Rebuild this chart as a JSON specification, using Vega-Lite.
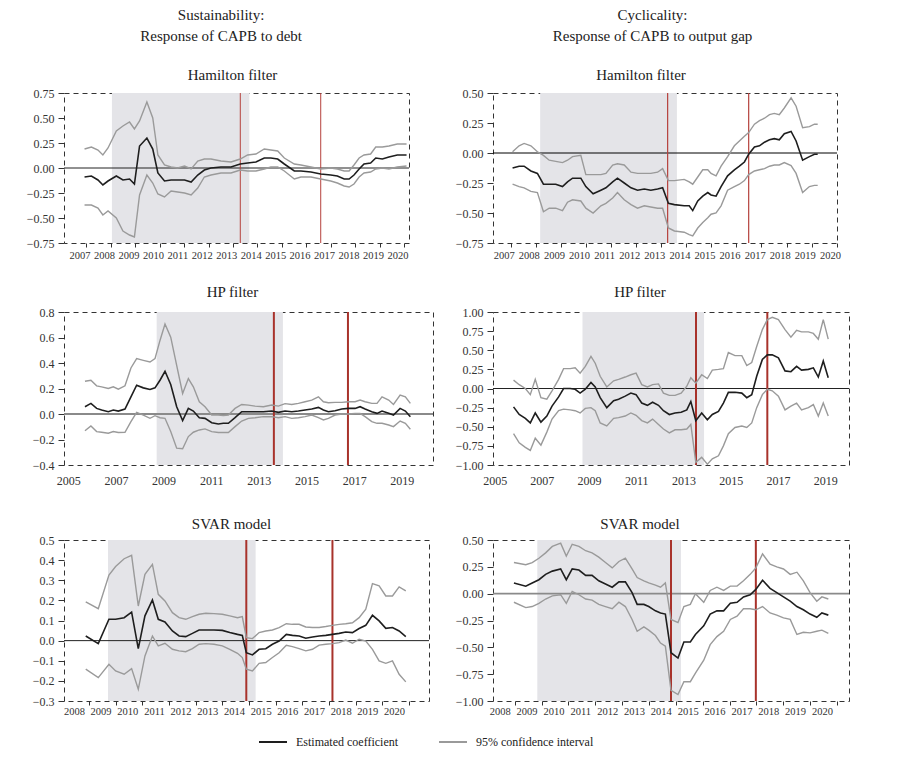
{
  "$schema": "https://vega.github.io/schema/vega-lite/v6.json",
  "padding": {"left": 25, "top": 7, "right": 5, "bottom": 5},
  "background": "white",
  "config": {
    "font": "Liberation Serif",
    "view": {"stroke": "#333", "strokeDash": [5, 4], "strokeWidth": 1},
    "title": {"font": "Liberation Serif", "fontWeight": "normal", "fontSize": 15, "color": "#222", "anchor": "middle"},
    "axis": {"grid": false, "domain": false, "labelFont": "Liberation Serif", "labelColor": "#333", "tickColor": "#333", "labelFlush": false, "labelOverlap": false, "tickCount": 40},
    "legend": {
      "orient": "none", "legendX": 194, "legendY": 634, "direction": "horizontal",
      "symbolType": "stroke", "symbolSize": 784, "symbolStrokeWidth": 2,
      "labelFont": "Liberation Serif", "labelFontSize": 12, "labelColor": "#222",
      "columnPadding": 36, "labelOffset": 8, "padding": 0
    }
  },
  "datasets": {
    "A": [
      {"t": 2007.20, "est": -0.09, "hi": 0.19, "lo": -0.37},
      {"t": 2007.48, "est": -0.08, "hi": 0.21, "lo": -0.37},
      {"t": 2007.75, "est": -0.12, "hi": 0.18, "lo": -0.40},
      {"t": 2007.95, "est": -0.17, "hi": 0.13, "lo": -0.47},
      {"t": 2008.16, "est": -0.13, "hi": 0.20, "lo": -0.43},
      {"t": 2008.50, "est": -0.08, "hi": 0.37, "lo": -0.50},
      {"t": 2008.77, "est": -0.12, "hi": 0.42, "lo": -0.63},
      {"t": 2009.04, "est": -0.11, "hi": 0.46, "lo": -0.67},
      {"t": 2009.24, "est": -0.16, "hi": 0.39, "lo": -0.69},
      {"t": 2009.45, "est": 0.22, "hi": 0.47, "lo": -0.27},
      {"t": 2009.75, "est": 0.30, "hi": 0.66, "lo": -0.07},
      {"t": 2009.99, "est": 0.19, "hi": 0.50, "lo": -0.15},
      {"t": 2010.20, "est": -0.05, "hi": 0.13, "lo": -0.26},
      {"t": 2010.47, "est": -0.13, "hi": 0.03, "lo": -0.29},
      {"t": 2010.74, "est": -0.12, "hi": 0.01, "lo": -0.23},
      {"t": 2011.01, "est": -0.12, "hi": 0.00, "lo": -0.24},
      {"t": 2011.29, "est": -0.12, "hi": 0.02, "lo": -0.25},
      {"t": 2011.56, "est": -0.14, "hi": -0.01, "lo": -0.27},
      {"t": 2011.83, "est": -0.07, "hi": 0.07, "lo": -0.20},
      {"t": 2012.10, "est": -0.02, "hi": 0.09, "lo": -0.09},
      {"t": 2012.37, "est": 0.00, "hi": 0.09, "lo": -0.07},
      {"t": 2012.78, "est": 0.01, "hi": 0.07, "lo": -0.05},
      {"t": 2013.19, "est": 0.01, "hi": 0.06, "lo": -0.05},
      {"t": 2013.57, "est": 0.04, "hi": 0.09, "lo": -0.02},
      {"t": 2013.87, "est": 0.05, "hi": 0.13, "lo": -0.03},
      {"t": 2014.21, "est": 0.06, "hi": 0.14, "lo": -0.03},
      {"t": 2014.55, "est": 0.10, "hi": 0.19, "lo": -0.01},
      {"t": 2014.82, "est": 0.10, "hi": 0.18, "lo": 0.01},
      {"t": 2015.10, "est": 0.09, "hi": 0.17, "lo": 0.01},
      {"t": 2015.37, "est": 0.04, "hi": 0.10, "lo": -0.03},
      {"t": 2015.78, "est": -0.03, "hi": 0.04, "lo": -0.11},
      {"t": 2016.05, "est": -0.03, "hi": 0.03, "lo": -0.09},
      {"t": 2016.46, "est": -0.04, "hi": 0.01, "lo": -0.09},
      {"t": 2016.86, "est": -0.06, "hi": -0.01, "lo": -0.11},
      {"t": 2017.27, "est": -0.07, "hi": 0.00, "lo": -0.13},
      {"t": 2017.54, "est": -0.08, "hi": -0.01, "lo": -0.15},
      {"t": 2017.82, "est": -0.11, "hi": -0.03, "lo": -0.18},
      {"t": 2018.02, "est": -0.11, "hi": -0.03, "lo": -0.19},
      {"t": 2018.22, "est": -0.07, "hi": 0.03, "lo": -0.16},
      {"t": 2018.43, "est": -0.01, "hi": 0.10, "lo": -0.09},
      {"t": 2018.63, "est": 0.04, "hi": 0.13, "lo": -0.05},
      {"t": 2018.90, "est": 0.05, "hi": 0.14, "lo": -0.04},
      {"t": 2019.11, "est": 0.10, "hi": 0.21, "lo": -0.01},
      {"t": 2019.38, "est": 0.09, "hi": 0.21, "lo": 0.00},
      {"t": 2019.65, "est": 0.11, "hi": 0.22, "lo": -0.01},
      {"t": 2019.99, "est": 0.13, "hi": 0.24, "lo": 0.01},
      {"t": 2020.37, "est": 0.13, "hi": 0.24, "lo": 0.02}
    ],
    "B": [
      {"t": 2007.35, "est": -0.125, "hi": 0.01, "lo": -0.26},
      {"t": 2007.61, "est": -0.11, "hi": 0.06, "lo": -0.28},
      {"t": 2007.81, "est": -0.11, "hi": 0.08, "lo": -0.29},
      {"t": 2008.08, "est": -0.15, "hi": 0.06, "lo": -0.32},
      {"t": 2008.34, "est": -0.17, "hi": 0.01, "lo": -0.33},
      {"t": 2008.58, "est": -0.26, "hi": -0.02, "lo": -0.49},
      {"t": 2008.81, "est": -0.26, "hi": -0.06, "lo": -0.46},
      {"t": 2009.07, "est": -0.26, "hi": -0.07, "lo": -0.46},
      {"t": 2009.34, "est": -0.28, "hi": -0.08, "lo": -0.48},
      {"t": 2009.54, "est": -0.24, "hi": -0.06, "lo": -0.41},
      {"t": 2009.74, "est": -0.21, "hi": -0.03, "lo": -0.39},
      {"t": 2010.07, "est": -0.21, "hi": -0.02, "lo": -0.40},
      {"t": 2010.27, "est": -0.28, "hi": -0.18, "lo": -0.46},
      {"t": 2010.56, "est": -0.34, "hi": -0.18, "lo": -0.50},
      {"t": 2010.87, "est": -0.31, "hi": -0.18, "lo": -0.44},
      {"t": 2011.07, "est": -0.29, "hi": -0.17, "lo": -0.42},
      {"t": 2011.34, "est": -0.24, "hi": -0.10, "lo": -0.375},
      {"t": 2011.53, "est": -0.21, "hi": -0.09, "lo": -0.33},
      {"t": 2011.80, "est": -0.25, "hi": -0.10, "lo": -0.39},
      {"t": 2012.07, "est": -0.29, "hi": -0.16, "lo": -0.43},
      {"t": 2012.33, "est": -0.31, "hi": -0.17, "lo": -0.46},
      {"t": 2012.60, "est": -0.30, "hi": -0.17, "lo": -0.44},
      {"t": 2012.86, "est": -0.31, "hi": -0.17, "lo": -0.45},
      {"t": 2013.13, "est": -0.30, "hi": -0.16, "lo": -0.46},
      {"t": 2013.33, "est": -0.29, "hi": -0.13, "lo": -0.46},
      {"t": 2013.56, "est": -0.42, "hi": -0.23, "lo": -0.625},
      {"t": 2013.80, "est": -0.43, "hi": -0.23, "lo": -0.65},
      {"t": 2014.19, "est": -0.44, "hi": -0.22, "lo": -0.66},
      {"t": 2014.39, "est": -0.44, "hi": -0.24, "lo": -0.68},
      {"t": 2014.53, "est": -0.48, "hi": -0.26, "lo": -0.69},
      {"t": 2014.73, "est": -0.40, "hi": -0.20, "lo": -0.625},
      {"t": 2014.93, "est": -0.36, "hi": -0.14, "lo": -0.58},
      {"t": 2015.13, "est": -0.33, "hi": -0.14, "lo": -0.54},
      {"t": 2015.26, "est": -0.35, "hi": -0.17, "lo": -0.51},
      {"t": 2015.46, "est": -0.36, "hi": -0.19, "lo": -0.50},
      {"t": 2015.66, "est": -0.28, "hi": -0.11, "lo": -0.44},
      {"t": 2015.92, "est": -0.19, "hi": -0.03, "lo": -0.31},
      {"t": 2016.19, "est": -0.14, "hi": 0.06, "lo": -0.28},
      {"t": 2016.39, "est": -0.11, "hi": 0.10, "lo": -0.26},
      {"t": 2016.59, "est": -0.075, "hi": 0.14, "lo": -0.23},
      {"t": 2016.76, "est": -0.01, "hi": 0.17, "lo": -0.18},
      {"t": 2016.99, "est": 0.05, "hi": 0.24, "lo": -0.15},
      {"t": 2017.19, "est": 0.06, "hi": 0.27, "lo": -0.14},
      {"t": 2017.39, "est": 0.09, "hi": 0.29, "lo": -0.13},
      {"t": 2017.59, "est": 0.11, "hi": 0.32, "lo": -0.11},
      {"t": 2017.78, "est": 0.12, "hi": 0.33, "lo": -0.10},
      {"t": 2017.98, "est": 0.11, "hi": 0.32, "lo": -0.10},
      {"t": 2018.18, "est": 0.16, "hi": 0.375, "lo": -0.08},
      {"t": 2018.45, "est": 0.18, "hi": 0.46, "lo": -0.105},
      {"t": 2018.65, "est": 0.10, "hi": 0.39, "lo": -0.17},
      {"t": 2018.91, "est": -0.06, "hi": 0.21, "lo": -0.33},
      {"t": 2019.18, "est": -0.03, "hi": 0.22, "lo": -0.28},
      {"t": 2019.38, "est": -0.01, "hi": 0.24, "lo": -0.27},
      {"t": 2019.51, "est": -0.01, "hi": 0.24, "lo": -0.27}
    ],
    "C": [
      {"t": 2005.70, "est": 0.057, "hi": 0.257, "lo": -0.132},
      {"t": 2005.95, "est": 0.083, "hi": 0.265, "lo": -0.094},
      {"t": 2006.19, "est": 0.044, "hi": 0.221, "lo": -0.138},
      {"t": 2006.40, "est": 0.031, "hi": 0.213, "lo": -0.143},
      {"t": 2006.68, "est": 0.018, "hi": 0.200, "lo": -0.151},
      {"t": 2006.89, "est": 0.031, "hi": 0.213, "lo": -0.138},
      {"t": 2007.10, "est": 0.023, "hi": 0.195, "lo": -0.145},
      {"t": 2007.38, "est": 0.039, "hi": 0.221, "lo": -0.143},
      {"t": 2007.63, "est": 0.135, "hi": 0.361, "lo": -0.060},
      {"t": 2007.87, "est": 0.226, "hi": 0.434, "lo": 0.013},
      {"t": 2008.15, "est": 0.205, "hi": 0.421, "lo": -0.008},
      {"t": 2008.43, "est": 0.192, "hi": 0.408, "lo": -0.034},
      {"t": 2008.64, "est": 0.205, "hi": 0.434, "lo": -0.013},
      {"t": 2008.85, "est": 0.265, "hi": 0.577, "lo": -0.029},
      {"t": 2009.06, "est": 0.335, "hi": 0.706, "lo": -0.034},
      {"t": 2009.30, "est": 0.231, "hi": 0.603, "lo": -0.138},
      {"t": 2009.55, "est": 0.057, "hi": 0.382, "lo": -0.268},
      {"t": 2009.80, "est": -0.052, "hi": 0.161, "lo": -0.273},
      {"t": 2010.04, "est": 0.044, "hi": 0.278, "lo": -0.177},
      {"t": 2010.25, "est": 0.023, "hi": 0.213, "lo": -0.143},
      {"t": 2010.50, "est": -0.029, "hi": 0.096, "lo": -0.125},
      {"t": 2010.74, "est": -0.034, "hi": 0.057, "lo": -0.117},
      {"t": 2011.02, "est": -0.068, "hi": -0.008, "lo": -0.138},
      {"t": 2011.30, "est": -0.078, "hi": -0.008, "lo": -0.145},
      {"t": 2011.51, "est": -0.073, "hi": -0.013, "lo": -0.145},
      {"t": 2011.72, "est": -0.073, "hi": -0.008, "lo": -0.145},
      {"t": 2012.00, "est": -0.029, "hi": 0.044, "lo": -0.099},
      {"t": 2012.28, "est": 0.018, "hi": 0.075, "lo": -0.055},
      {"t": 2012.56, "est": 0.018, "hi": 0.070, "lo": -0.034},
      {"t": 2012.84, "est": 0.018, "hi": 0.062, "lo": -0.029},
      {"t": 2013.19, "est": 0.018, "hi": 0.057, "lo": -0.021},
      {"t": 2013.54, "est": 0.023, "hi": 0.070, "lo": -0.021},
      {"t": 2013.82, "est": 0.013, "hi": 0.062, "lo": -0.029},
      {"t": 2014.10, "est": 0.023, "hi": 0.081, "lo": -0.021},
      {"t": 2014.38, "est": 0.018, "hi": 0.075, "lo": -0.034},
      {"t": 2014.66, "est": 0.023, "hi": 0.083, "lo": -0.029},
      {"t": 2014.94, "est": 0.031, "hi": 0.096, "lo": -0.021},
      {"t": 2015.22, "est": 0.039, "hi": 0.109, "lo": -0.008},
      {"t": 2015.50, "est": 0.052, "hi": 0.135, "lo": -0.029},
      {"t": 2015.71, "est": 0.031, "hi": 0.096, "lo": -0.047},
      {"t": 2015.92, "est": 0.018, "hi": 0.088, "lo": -0.034},
      {"t": 2016.20, "est": 0.026, "hi": 0.091, "lo": -0.008},
      {"t": 2016.48, "est": 0.039, "hi": 0.091, "lo": 0.000},
      {"t": 2016.76, "est": 0.044, "hi": 0.096, "lo": 0.000},
      {"t": 2017.04, "est": 0.044, "hi": 0.096, "lo": 0.005},
      {"t": 2017.25, "est": 0.057, "hi": 0.109, "lo": 0.005},
      {"t": 2017.46, "est": 0.039, "hi": 0.096, "lo": -0.021},
      {"t": 2017.74, "est": 0.018, "hi": 0.083, "lo": -0.060},
      {"t": 2017.96, "est": 0.005, "hi": 0.083, "lo": -0.073},
      {"t": 2018.17, "est": 0.023, "hi": 0.135, "lo": -0.073},
      {"t": 2018.45, "est": 0.005, "hi": 0.109, "lo": -0.086},
      {"t": 2018.65, "est": -0.008, "hi": 0.075, "lo": -0.099},
      {"t": 2018.93, "est": 0.044, "hi": 0.148, "lo": -0.055},
      {"t": 2019.15, "est": 0.023, "hi": 0.135, "lo": -0.073},
      {"t": 2019.36, "est": -0.021, "hi": 0.083, "lo": -0.119}
    ],
    "D": [
      {"t": 2005.80, "est": -0.24, "hi": 0.11, "lo": -0.59},
      {"t": 2006.04, "est": -0.34, "hi": 0.05, "lo": -0.71},
      {"t": 2006.30, "est": -0.39, "hi": 0.00, "lo": -0.77},
      {"t": 2006.51, "est": -0.45, "hi": -0.08, "lo": -0.81},
      {"t": 2006.72, "est": -0.32, "hi": 0.12, "lo": -0.65},
      {"t": 2006.96, "est": -0.44, "hi": -0.12, "lo": -0.74},
      {"t": 2007.21, "est": -0.36, "hi": -0.14, "lo": -0.57},
      {"t": 2007.43, "est": -0.23, "hi": -0.03, "lo": -0.40},
      {"t": 2007.71, "est": -0.11, "hi": 0.12, "lo": -0.29},
      {"t": 2007.92, "est": 0.00, "hi": 0.26, "lo": -0.27},
      {"t": 2008.20, "est": 0.00, "hi": 0.26, "lo": -0.28},
      {"t": 2008.41, "est": -0.01, "hi": 0.27, "lo": -0.29},
      {"t": 2008.62, "est": -0.06, "hi": 0.20, "lo": -0.32},
      {"t": 2008.84, "est": -0.01, "hi": 0.29, "lo": -0.26},
      {"t": 2009.08, "est": 0.08, "hi": 0.42, "lo": -0.25},
      {"t": 2009.26, "est": 0.02, "hi": 0.33, "lo": -0.29},
      {"t": 2009.47, "est": -0.12, "hi": 0.16, "lo": -0.45},
      {"t": 2009.75, "est": -0.25, "hi": 0.02, "lo": -0.49},
      {"t": 2010.04, "est": -0.16, "hi": 0.10, "lo": -0.39},
      {"t": 2010.25, "est": -0.14, "hi": 0.12, "lo": -0.38},
      {"t": 2010.53, "est": -0.10, "hi": 0.15, "lo": -0.36},
      {"t": 2010.77, "est": -0.06, "hi": 0.18, "lo": -0.32},
      {"t": 2010.99, "est": -0.08, "hi": 0.20, "lo": -0.35},
      {"t": 2011.23, "est": -0.19, "hi": 0.05, "lo": -0.42},
      {"t": 2011.47, "est": -0.22, "hi": 0.02, "lo": -0.45},
      {"t": 2011.69, "est": -0.18, "hi": 0.05, "lo": -0.40},
      {"t": 2011.94, "est": -0.22, "hi": 0.06, "lo": -0.47},
      {"t": 2012.15, "est": -0.29, "hi": -0.06, "lo": -0.53},
      {"t": 2012.40, "est": -0.34, "hi": -0.09, "lo": -0.58},
      {"t": 2012.64, "est": -0.32, "hi": -0.09, "lo": -0.54},
      {"t": 2012.90, "est": -0.31, "hi": -0.06, "lo": -0.54},
      {"t": 2013.14, "est": -0.28, "hi": 0.03, "lo": -0.53},
      {"t": 2013.31, "est": -0.17, "hi": 0.14, "lo": -0.47},
      {"t": 2013.52, "est": -0.42, "hi": 0.07, "lo": -0.965},
      {"t": 2013.77, "est": -0.32, "hi": 0.18, "lo": -0.90},
      {"t": 2014.01, "est": -0.41, "hi": 0.13, "lo": -0.99},
      {"t": 2014.22, "est": -0.34, "hi": 0.24, "lo": -0.92},
      {"t": 2014.48, "est": -0.30, "hi": 0.25, "lo": -0.88},
      {"t": 2014.69, "est": -0.19, "hi": 0.26, "lo": -0.75},
      {"t": 2014.90, "est": -0.05, "hi": 0.47, "lo": -0.59},
      {"t": 2015.18, "est": -0.05, "hi": 0.43, "lo": -0.51},
      {"t": 2015.47, "est": -0.06, "hi": 0.43, "lo": -0.49},
      {"t": 2015.68, "est": -0.12, "hi": 0.30, "lo": -0.51},
      {"t": 2015.89, "est": -0.08, "hi": 0.34, "lo": -0.45},
      {"t": 2016.10, "est": 0.16, "hi": 0.55, "lo": -0.25},
      {"t": 2016.34, "est": 0.38, "hi": 0.77, "lo": -0.08},
      {"t": 2016.55, "est": 0.44, "hi": 0.90, "lo": -0.01},
      {"t": 2016.76, "est": 0.44, "hi": 0.93, "lo": -0.03},
      {"t": 2017.02, "est": 0.40, "hi": 0.90, "lo": -0.10},
      {"t": 2017.30, "est": 0.23, "hi": 0.77, "lo": -0.28},
      {"t": 2017.55, "est": 0.22, "hi": 0.67, "lo": -0.23},
      {"t": 2017.79, "est": 0.29, "hi": 0.76, "lo": -0.19},
      {"t": 2018.00, "est": 0.24, "hi": 0.74, "lo": -0.28},
      {"t": 2018.29, "est": 0.25, "hi": 0.74, "lo": -0.25},
      {"t": 2018.50, "est": 0.27, "hi": 0.72, "lo": -0.21},
      {"t": 2018.71, "est": 0.15, "hi": 0.645, "lo": -0.36},
      {"t": 2018.92, "est": 0.36, "hi": 0.90, "lo": -0.19},
      {"t": 2019.13, "est": 0.14, "hi": 0.645, "lo": -0.36}
    ],
    "E": [
      {"t": 2008.44, "est": 0.023, "hi": 0.192, "lo": -0.142},
      {"t": 2008.91, "est": -0.015, "hi": 0.159, "lo": -0.184},
      {"t": 2009.31, "est": 0.106, "hi": 0.326, "lo": -0.118},
      {"t": 2009.56, "est": 0.106, "hi": 0.368, "lo": -0.151},
      {"t": 2009.88, "est": 0.114, "hi": 0.407, "lo": -0.167},
      {"t": 2010.16, "est": 0.142, "hi": 0.424, "lo": -0.139},
      {"t": 2010.41, "est": -0.040, "hi": 0.172, "lo": -0.242},
      {"t": 2010.66, "est": 0.123, "hi": 0.329, "lo": -0.076},
      {"t": 2010.94, "est": 0.202, "hi": 0.379, "lo": 0.023},
      {"t": 2011.16, "est": 0.106, "hi": 0.230, "lo": -0.026},
      {"t": 2011.41, "est": 0.093, "hi": 0.197, "lo": -0.013},
      {"t": 2011.69, "est": 0.048, "hi": 0.139, "lo": -0.043},
      {"t": 2011.94, "est": 0.023, "hi": 0.114, "lo": -0.051},
      {"t": 2012.19, "est": 0.020, "hi": 0.106, "lo": -0.055},
      {"t": 2012.44, "est": 0.036, "hi": 0.119, "lo": -0.040},
      {"t": 2012.69, "est": 0.053, "hi": 0.131, "lo": -0.018},
      {"t": 2012.94, "est": 0.053, "hi": 0.136, "lo": -0.015},
      {"t": 2013.25, "est": 0.053, "hi": 0.134, "lo": -0.018},
      {"t": 2013.56, "est": 0.051, "hi": 0.131, "lo": -0.026},
      {"t": 2013.84, "est": 0.040, "hi": 0.123, "lo": -0.043},
      {"t": 2014.13, "est": 0.031, "hi": 0.114, "lo": -0.063},
      {"t": 2014.31, "est": 0.026, "hi": 0.119, "lo": -0.084},
      {"t": 2014.46, "est": -0.060, "hi": 0.015, "lo": -0.142},
      {"t": 2014.69, "est": -0.071, "hi": 0.010, "lo": -0.151},
      {"t": 2014.94, "est": -0.043, "hi": 0.040, "lo": -0.113},
      {"t": 2015.19, "est": -0.040, "hi": 0.048, "lo": -0.109},
      {"t": 2015.44, "est": -0.018, "hi": 0.053, "lo": -0.084},
      {"t": 2015.69, "est": -0.002, "hi": 0.065, "lo": -0.060},
      {"t": 2015.96, "est": 0.031, "hi": 0.084, "lo": -0.023},
      {"t": 2016.19, "est": 0.026, "hi": 0.081, "lo": -0.030},
      {"t": 2016.44, "est": 0.023, "hi": 0.081, "lo": -0.040},
      {"t": 2016.69, "est": 0.012, "hi": 0.068, "lo": -0.051},
      {"t": 2016.94, "est": 0.018, "hi": 0.065, "lo": -0.043},
      {"t": 2017.19, "est": 0.023, "hi": 0.065, "lo": -0.022},
      {"t": 2017.44, "est": 0.026, "hi": 0.070, "lo": -0.018},
      {"t": 2017.69, "est": 0.031, "hi": 0.076, "lo": -0.015},
      {"t": 2017.94, "est": 0.036, "hi": 0.081, "lo": -0.010},
      {"t": 2018.19, "est": 0.043, "hi": 0.084, "lo": 0.003},
      {"t": 2018.44, "est": 0.040, "hi": 0.089, "lo": -0.013},
      {"t": 2018.69, "est": 0.060, "hi": 0.114, "lo": 0.007},
      {"t": 2018.94, "est": 0.076, "hi": 0.156, "lo": -0.002},
      {"t": 2019.19, "est": 0.126, "hi": 0.283, "lo": -0.043},
      {"t": 2019.44, "est": 0.098, "hi": 0.272, "lo": -0.101},
      {"t": 2019.69, "est": 0.061, "hi": 0.222, "lo": -0.113},
      {"t": 2019.94, "est": 0.065, "hi": 0.222, "lo": -0.101},
      {"t": 2020.19, "est": 0.048, "hi": 0.267, "lo": -0.167},
      {"t": 2020.44, "est": 0.020, "hi": 0.247, "lo": -0.205}
    ],
    "F": [
      {"t": 2008.53, "est": 0.10, "hi": 0.29, "lo": -0.08},
      {"t": 2008.97, "est": 0.07, "hi": 0.27, "lo": -0.13},
      {"t": 2009.21, "est": 0.10, "hi": 0.29, "lo": -0.12},
      {"t": 2009.46, "est": 0.13, "hi": 0.33, "lo": -0.09},
      {"t": 2009.71, "est": 0.18, "hi": 0.38, "lo": -0.05},
      {"t": 2009.96, "est": 0.21, "hi": 0.44, "lo": -0.02},
      {"t": 2010.27, "est": 0.23, "hi": 0.47, "lo": -0.01},
      {"t": 2010.48, "est": 0.13, "hi": 0.35, "lo": -0.09},
      {"t": 2010.70, "est": 0.23, "hi": 0.46, "lo": 0.02},
      {"t": 2010.95, "est": 0.22, "hi": 0.44, "lo": -0.01},
      {"t": 2011.20, "est": 0.17, "hi": 0.40, "lo": -0.05},
      {"t": 2011.44, "est": 0.17, "hi": 0.38, "lo": -0.06},
      {"t": 2011.69, "est": 0.12, "hi": 0.34, "lo": -0.10},
      {"t": 2011.94, "est": 0.09, "hi": 0.29, "lo": -0.12},
      {"t": 2012.19, "est": 0.06, "hi": 0.24, "lo": -0.14},
      {"t": 2012.44, "est": 0.11, "hi": 0.30, "lo": -0.08},
      {"t": 2012.68, "est": 0.11, "hi": 0.33, "lo": -0.12},
      {"t": 2012.93, "est": 0.01, "hi": 0.23, "lo": -0.24},
      {"t": 2013.12, "est": -0.10, "hi": 0.15, "lo": -0.35},
      {"t": 2013.37, "est": -0.10, "hi": 0.12, "lo": -0.31},
      {"t": 2013.55, "est": -0.12, "hi": 0.10, "lo": -0.34},
      {"t": 2013.80, "est": -0.16, "hi": 0.08, "lo": -0.39},
      {"t": 2013.99, "est": -0.18, "hi": 0.06, "lo": -0.46},
      {"t": 2014.17, "est": -0.19, "hi": 0.10, "lo": -0.49},
      {"t": 2014.38, "est": -0.55, "hi": -0.24, "lo": -0.90},
      {"t": 2014.64, "est": -0.60, "hi": -0.27, "lo": -0.94},
      {"t": 2014.86, "est": -0.45, "hi": -0.12, "lo": -0.82},
      {"t": 2015.10, "est": -0.45, "hi": -0.10, "lo": -0.82},
      {"t": 2015.29, "est": -0.38, "hi": 0.00, "lo": -0.74},
      {"t": 2015.60, "est": -0.30, "hi": -0.08, "lo": -0.62},
      {"t": 2015.84, "est": -0.19, "hi": 0.03, "lo": -0.475},
      {"t": 2016.09, "est": -0.16, "hi": 0.06, "lo": -0.40},
      {"t": 2016.34, "est": -0.16, "hi": 0.03, "lo": -0.35},
      {"t": 2016.59, "est": -0.09, "hi": 0.07, "lo": -0.24},
      {"t": 2016.84, "est": -0.08, "hi": 0.07, "lo": -0.21},
      {"t": 2017.08, "est": -0.03, "hi": 0.12, "lo": -0.14},
      {"t": 2017.33, "est": -0.01, "hi": 0.18, "lo": -0.14},
      {"t": 2017.54, "est": 0.04, "hi": 0.24, "lo": -0.15},
      {"t": 2017.79, "est": 0.125, "hi": 0.37, "lo": -0.12},
      {"t": 2018.07, "est": 0.05, "hi": 0.275, "lo": -0.18},
      {"t": 2018.32, "est": 0.01, "hi": 0.25, "lo": -0.20},
      {"t": 2018.57, "est": -0.03, "hi": 0.23, "lo": -0.225},
      {"t": 2018.82, "est": -0.07, "hi": 0.18, "lo": -0.24},
      {"t": 2019.07, "est": -0.12, "hi": 0.20, "lo": -0.38},
      {"t": 2019.31, "est": -0.15, "hi": 0.12, "lo": -0.36},
      {"t": 2019.56, "est": -0.19, "hi": 0.01, "lo": -0.365},
      {"t": 2019.81, "est": -0.22, "hi": -0.07, "lo": -0.35},
      {"t": 2020.00, "est": -0.18, "hi": -0.03, "lo": -0.34},
      {"t": 2020.24, "est": -0.20, "hi": -0.05, "lo": -0.37}
    ]
  },
  "spacing": 19,
  "hconcat": [
    {
      "title": {"text": ["Sustainability:", "Response of CAPB to debt"], "fontSize": 15, "lineHeight": 21, "offset": 24, "dx": -9},
      "spacing": 23,
      "align": "none",
      "vconcat": [
        {
          "width": 345, "height": 150,
          "title": {"text": "Hamilton filter", "offset": 4, "dx": -4},
          "layer": [
            {"data": {"values": [{"t": 2008.32, "t2": 2013.94}]}, "mark": {"type": "rect", "color": "#e4e4e8"},
             "encoding": {"x": {"field": "t", "type": "quantitative", "title": null, "scale": {"domain": [2006.36, 2020.47], "nice": false, "zero": false}, "axis": {"values": [2007.27,2008.27,2009.27,2010.27,2011.27,2012.27,2013.27,2014.27,2015.27,2016.27,2017.27,2018.27,2019.27,2020.27], "tickCount": 40, "labelExpr": "floor(datum.value)", "labelOffset": -6.7, "labelFont": "Liberation Serif", "labelFontSize": 10.5, "labelColor": "#333", "labelPadding": 3, "labelOverlap": false, "labelFlush": false, "ticks": true, "tickSize": 4, "tickColor": "#333", "domain": false, "grid": false}}, "x2": {"field": "t2"}}},
            {"data": {"values": [{}]}, "mark": {"type": "rule", "color": "#222", "strokeWidth": 1}, "encoding": {"y": {"datum": 0, "type": "quantitative"}}},
            {"data": {"values": [{"t": 2013.57}, {"t": 2016.86}]}, "mark": {"type": "rule", "color": "#b5413c", "strokeWidth": 1}, "encoding": {"x": {"field": "t", "type": "quantitative", "title": null}}},
            {"data": {"name": "A"}, "mark": {"type": "line", "strokeWidth": 1.4},
             "encoding": {"x": {"field": "t", "type": "quantitative", "title": null}, "y": {"field": "hi", "type": "quantitative", "title": null, "scale": {"domain": [-0.75, 0.75], "nice": false, "zero": false}, "axis": {"values": [-0.75,-0.5,-0.25,0,0.25,0.5,0.75], "tickCount": 40, "format": ".2f", "labelFont": "Liberation Serif", "labelFontSize": 12, "labelColor": "#333", "labelPadding": 4, "labelOverlap": false, "labelFlush": false, "tickSize": 6, "tickColor": "#333", "domain": false, "grid": false}}, "color": {"datum": "95% confidence interval", "type": "nominal", "scale": {"domain": ["Estimated coefficient", "95% confidence interval"], "range": ["#1e1e1e", "#9a9a9a"]}}}},
            {"data": {"name": "A"}, "mark": {"type": "line", "strokeWidth": 1.4},
             "encoding": {"x": {"field": "t", "type": "quantitative", "title": null}, "y": {"field": "lo", "type": "quantitative", "title": null}, "color": {"datum": "95% confidence interval", "type": "nominal"}}},
            {"data": {"name": "A"}, "mark": {"type": "line", "strokeWidth": 1.6},
             "encoding": {"x": {"field": "t", "type": "quantitative", "title": null}, "y": {"field": "est", "type": "quantitative", "title": null}, "color": {"datum": "Estimated coefficient", "type": "nominal", "legend": {"orient": "none", "legendX": 194, "legendY": 634, "direction": "horizontal", "title": null, "symbolType": "stroke", "symbolSize": 784, "symbolStrokeWidth": 2, "labelFont": "Liberation Serif", "labelFontSize": 12, "labelColor": "#222", "columnPadding": 36, "labelOffset": 8}}}}
          ]
        },
        {
          "spacing": 29,
          "align": "none",
          "vconcat": [
            {
              "width": 369, "height": 153,
              "title": {"text": "HP filter", "offset": 6, "dx": -16},
              "layer": [
                {"data": {"values": [{"t": 2008.71, "t2": 2014.01}]}, "mark": {"type": "rect", "color": "#e4e4e8"},
                 "encoding": {"x": {"field": "t", "type": "quantitative", "title": null, "scale": {"domain": [2004.82, 2020.31], "nice": false, "zero": false}, "axis": {"values": [2005,2007,2009,2011,2013,2015,2017,2019], "tickCount": 40, "format": "d", "labelFont": "Liberation Serif", "labelFontSize": 12, "labelColor": "#333", "labelPadding": 10, "labelOverlap": false, "labelFlush": false, "ticks": false, "domain": false, "grid": false}}, "x2": {"field": "t2"}}},
                {"data": {"values": [{}]}, "mark": {"type": "rule", "color": "#8a8a8a", "strokeWidth": 2}, "encoding": {"y": {"datum": 0, "type": "quantitative"}}},
                {"data": {"values": [{"t": 2013.63}, {"t": 2016.74}]}, "mark": {"type": "rule", "color": "#a8322b", "strokeWidth": 2}, "encoding": {"x": {"field": "t", "type": "quantitative", "title": null}}},
                {"data": {"name": "C"}, "mark": {"type": "line", "strokeWidth": 1.4},
                 "encoding": {"x": {"field": "t", "type": "quantitative", "title": null}, "y": {"field": "hi", "type": "quantitative", "title": null, "scale": {"domain": [-0.4, 0.8], "nice": false, "zero": false}, "axis": {"values": [-0.4,-0.2,0,0.2,0.4,0.6,0.8], "tickCount": 40, "format": ".1f", "labelFont": "Liberation Serif", "labelFontSize": 12, "labelColor": "#333", "labelPadding": 4, "labelOverlap": false, "labelFlush": false, "tickSize": 6, "tickColor": "#333", "domain": false, "grid": false}}, "color": {"datum": "95% confidence interval", "type": "nominal", "scale": {"domain": ["Estimated coefficient", "95% confidence interval"], "range": ["#1e1e1e", "#9a9a9a"]}}}},
                {"data": {"name": "C"}, "mark": {"type": "line", "strokeWidth": 1.4},
                 "encoding": {"x": {"field": "t", "type": "quantitative", "title": null}, "y": {"field": "lo", "type": "quantitative", "title": null}, "color": {"datum": "95% confidence interval", "type": "nominal"}}},
                {"data": {"name": "C"}, "mark": {"type": "line", "strokeWidth": 1.6},
                 "encoding": {"x": {"field": "t", "type": "quantitative", "title": null}, "y": {"field": "est", "type": "quantitative", "title": null}, "color": {"datum": "Estimated coefficient", "type": "nominal"}}}
              ]
            },
            {
              "width": 365, "height": 161,
              "title": {"text": "SVAR model", "offset": 2, "dx": -15},
              "layer": [
                {"data": {"values": [{"t": 2009.275, "t2": 2014.81}]}, "mark": {"type": "rect", "color": "#e4e4e8"},
                 "encoding": {"x": {"field": "t", "type": "quantitative", "title": null, "scale": {"domain": [2007.625, 2021.31], "nice": false, "zero": false}, "axis": {"values": [2008.56,2009.56,2010.56,2011.56,2012.56,2013.56,2014.56,2015.56,2016.56,2017.56,2018.56,2019.56,2020.56], "tickCount": 40, "labelExpr": "floor(datum.value)", "labelOffset": -15, "labelFont": "Liberation Serif", "labelFontSize": 10.5, "labelColor": "#333", "labelPadding": 1, "labelOverlap": false, "labelFlush": false, "ticks": true, "tickSize": 4, "tickColor": "#333", "domain": false, "grid": false}}, "x2": {"field": "t2"}}},
                {"data": {"values": [{}]}, "mark": {"type": "rule", "color": "#222", "strokeWidth": 1}, "encoding": {"y": {"datum": 0, "type": "quantitative"}}},
                {"data": {"values": [{"t": 2014.46}, {"t": 2017.69}]}, "mark": {"type": "rule", "color": "#a8322b", "strokeWidth": 2}, "encoding": {"x": {"field": "t", "type": "quantitative", "title": null}}},
                {"data": {"name": "E"}, "mark": {"type": "line", "strokeWidth": 1.4},
                 "encoding": {"x": {"field": "t", "type": "quantitative", "title": null}, "y": {"field": "hi", "type": "quantitative", "title": null, "scale": {"domain": [-0.3, 0.5], "nice": false, "zero": false}, "axis": {"values": [-0.3,-0.2,-0.1,0,0.1,0.2,0.3,0.4,0.5], "tickCount": 40, "format": ".1f", "labelFont": "Liberation Serif", "labelFontSize": 12, "labelColor": "#333", "labelPadding": 4, "labelOverlap": false, "labelFlush": false, "tickSize": 6, "tickColor": "#333", "domain": false, "grid": false}}, "color": {"datum": "95% confidence interval", "type": "nominal", "scale": {"domain": ["Estimated coefficient", "95% confidence interval"], "range": ["#1e1e1e", "#9a9a9a"]}}}},
                {"data": {"name": "E"}, "mark": {"type": "line", "strokeWidth": 1.4},
                 "encoding": {"x": {"field": "t", "type": "quantitative", "title": null}, "y": {"field": "lo", "type": "quantitative", "title": null}, "color": {"datum": "95% confidence interval", "type": "nominal"}}},
                {"data": {"name": "E"}, "mark": {"type": "line", "strokeWidth": 1.6},
                 "encoding": {"x": {"field": "t", "type": "quantitative", "title": null}, "y": {"field": "est", "type": "quantitative", "title": null}, "color": {"datum": "Estimated coefficient", "type": "nominal"}}}
              ]
            }
          ]
        }
      ]
    },
    {
      "title": {"text": ["Cyclicality:", "Response of CAPB to output gap"], "fontSize": 15, "lineHeight": 21, "offset": 24},
      "spacing": 23,
      "align": "none",
      "vconcat": [
        {
          "width": 344, "height": 150,
          "title": {"text": "Hamilton filter", "offset": 4, "dx": -24},
          "layer": [
            {"data": {"values": [{"t": 2008.45, "t2": 2013.90}]}, "mark": {"type": "rect", "color": "#e4e4e8"},
             "encoding": {"x": {"field": "t", "type": "quantitative", "title": null, "scale": {"domain": [2006.57, 2020.28], "nice": false, "zero": false}, "axis": {"values": [2007.27,2008.27,2009.27,2010.27,2011.27,2012.27,2013.27,2014.27,2015.27,2016.27,2017.27,2018.27,2019.27,2020.27], "tickCount": 40, "labelExpr": "floor(datum.value)", "labelOffset": -6.8, "labelFont": "Liberation Serif", "labelFontSize": 10.5, "labelColor": "#333", "labelPadding": 3, "labelOverlap": false, "labelFlush": false, "ticks": true, "tickSize": 4, "tickColor": "#333", "domain": false, "grid": false}}, "x2": {"field": "t2"}}},
            {"data": {"values": [{}]}, "mark": {"type": "rule", "color": "#000", "strokeWidth": 1}, "encoding": {"y": {"datum": 0, "type": "quantitative"}}},
            {"data": {"values": [{"t": 2013.53}, {"t": 2016.76}]}, "mark": {"type": "rule", "color": "#b5413c", "strokeWidth": 1.2}, "encoding": {"x": {"field": "t", "type": "quantitative", "title": null}}},
            {"data": {"name": "B"}, "mark": {"type": "line", "strokeWidth": 1.4},
             "encoding": {"x": {"field": "t", "type": "quantitative", "title": null}, "y": {"field": "hi", "type": "quantitative", "title": null, "scale": {"domain": [-0.75, 0.5], "nice": false, "zero": false}, "axis": {"values": [-0.75,-0.5,-0.25,0,0.25,0.5], "tickCount": 40, "format": ".2f", "labelFont": "Liberation Serif", "labelFontSize": 12, "labelColor": "#333", "labelPadding": 4, "labelOverlap": false, "labelFlush": false, "tickSize": 6, "tickColor": "#333", "domain": false, "grid": false}}, "color": {"datum": "95% confidence interval", "type": "nominal", "scale": {"domain": ["Estimated coefficient", "95% confidence interval"], "range": ["#1e1e1e", "#9a9a9a"]}}}},
            {"data": {"name": "B"}, "mark": {"type": "line", "strokeWidth": 1.4},
             "encoding": {"x": {"field": "t", "type": "quantitative", "title": null}, "y": {"field": "lo", "type": "quantitative", "title": null}, "color": {"datum": "95% confidence interval", "type": "nominal"}}},
            {"data": {"name": "B"}, "mark": {"type": "line", "strokeWidth": 1.6},
             "encoding": {"x": {"field": "t", "type": "quantitative", "title": null}, "y": {"field": "est", "type": "quantitative", "title": null}, "color": {"datum": "Estimated coefficient", "type": "nominal"}}}
          ]
        },
        {
          "spacing": 29,
          "align": "none",
          "vconcat": [
            {
              "width": 356, "height": 153,
              "title": {"text": "HP filter", "offset": 6, "dx": -31},
              "layer": [
                {"data": {"values": [{"t": 2008.72, "t2": 2013.87}]}, "mark": {"type": "rect", "color": "#e4e4e8"},
                 "encoding": {"x": {"field": "t", "type": "quantitative", "title": null, "scale": {"domain": [2004.93, 2020.01], "nice": false, "zero": false}, "axis": {"values": [2005,2007,2009,2011,2013,2015,2017,2019], "tickCount": 40, "format": "d", "labelFont": "Liberation Serif", "labelFontSize": 12, "labelColor": "#333", "labelPadding": 10, "labelOverlap": false, "labelFlush": false, "ticks": false, "domain": false, "grid": false}}, "x2": {"field": "t2"}}},
                {"data": {"values": [{}]}, "mark": {"type": "rule", "color": "#222", "strokeWidth": 1}, "encoding": {"y": {"datum": 0, "type": "quantitative"}}},
                {"data": {"values": [{"t": 2013.53}, {"t": 2016.55}]}, "mark": {"type": "rule", "color": "#a8322b", "strokeWidth": 2}, "encoding": {"x": {"field": "t", "type": "quantitative", "title": null}}},
                {"data": {"name": "D"}, "mark": {"type": "line", "strokeWidth": 1.4},
                 "encoding": {"x": {"field": "t", "type": "quantitative", "title": null}, "y": {"field": "hi", "type": "quantitative", "title": null, "scale": {"domain": [-1, 1], "nice": false, "zero": false}, "axis": {"values": [-1,-0.75,-0.5,-0.25,0,0.25,0.5,0.75,1], "tickCount": 40, "format": ".2f", "labelFont": "Liberation Serif", "labelFontSize": 12, "labelColor": "#333", "labelPadding": 4, "labelOverlap": false, "labelFlush": false, "tickSize": 6, "tickColor": "#333", "domain": false, "grid": false}}, "color": {"datum": "95% confidence interval", "type": "nominal", "scale": {"domain": ["Estimated coefficient", "95% confidence interval"], "range": ["#1e1e1e", "#9a9a9a"]}}}},
                {"data": {"name": "D"}, "mark": {"type": "line", "strokeWidth": 1.4},
                 "encoding": {"x": {"field": "t", "type": "quantitative", "title": null}, "y": {"field": "lo", "type": "quantitative", "title": null}, "color": {"datum": "95% confidence interval", "type": "nominal"}}},
                {"data": {"name": "D"}, "mark": {"type": "line", "strokeWidth": 1.6},
                 "encoding": {"x": {"field": "t", "type": "quantitative", "title": null}, "y": {"field": "est", "type": "quantitative", "title": null}, "color": {"datum": "Estimated coefficient", "type": "nominal"}}}
              ]
            },
            {
              "width": 356, "height": 161,
              "title": {"text": "SVAR model", "offset": 2, "dx": -31},
              "layer": [
                {"data": {"values": [{"t": 2009.40, "t2": 2014.75}]}, "mark": {"type": "rect", "color": "#e4e4e8"},
                 "encoding": {"x": {"field": "t", "type": "quantitative", "title": null, "scale": {"domain": [2007.75, 2021.01], "nice": false, "zero": false}, "axis": {"values": [2008.56,2009.56,2010.56,2011.56,2012.56,2013.56,2014.56,2015.56,2016.56,2017.56,2018.56,2019.56,2020.56], "tickCount": 40, "labelExpr": "floor(datum.value)", "labelOffset": -15, "labelFont": "Liberation Serif", "labelFontSize": 10.5, "labelColor": "#333", "labelPadding": 1, "labelOverlap": false, "labelFlush": false, "ticks": true, "tickSize": 4, "tickColor": "#333", "domain": false, "grid": false}}, "x2": {"field": "t2"}}},
                {"data": {"values": [{}]}, "mark": {"type": "rule", "color": "#8a8a8a", "strokeWidth": 1.6}, "encoding": {"y": {"datum": 0, "type": "quantitative"}}},
                {"data": {"values": [{"t": 2014.38}, {"t": 2017.54}]}, "mark": {"type": "rule", "color": "#a8322b", "strokeWidth": 2}, "encoding": {"x": {"field": "t", "type": "quantitative", "title": null}}},
                {"data": {"name": "F"}, "mark": {"type": "line", "strokeWidth": 1.4},
                 "encoding": {"x": {"field": "t", "type": "quantitative", "title": null}, "y": {"field": "hi", "type": "quantitative", "title": null, "scale": {"domain": [-1, 0.5], "nice": false, "zero": false}, "axis": {"values": [-1,-0.75,-0.5,-0.25,0,0.25,0.5], "tickCount": 40, "format": ".2f", "labelFont": "Liberation Serif", "labelFontSize": 12, "labelColor": "#333", "labelPadding": 4, "labelOverlap": false, "labelFlush": false, "tickSize": 6, "tickColor": "#333", "domain": false, "grid": false}}, "color": {"datum": "95% confidence interval", "type": "nominal", "scale": {"domain": ["Estimated coefficient", "95% confidence interval"], "range": ["#1e1e1e", "#9a9a9a"]}}}},
                {"data": {"name": "F"}, "mark": {"type": "line", "strokeWidth": 1.4},
                 "encoding": {"x": {"field": "t", "type": "quantitative", "title": null}, "y": {"field": "lo", "type": "quantitative", "title": null}, "color": {"datum": "95% confidence interval", "type": "nominal"}}},
                {"data": {"name": "F"}, "mark": {"type": "line", "strokeWidth": 1.6},
                 "encoding": {"x": {"field": "t", "type": "quantitative", "title": null}, "y": {"field": "est", "type": "quantitative", "title": null}, "color": {"datum": "Estimated coefficient", "type": "nominal"}}}
              ]
            }
          ]
        }
      ]
    }
  ]
}
